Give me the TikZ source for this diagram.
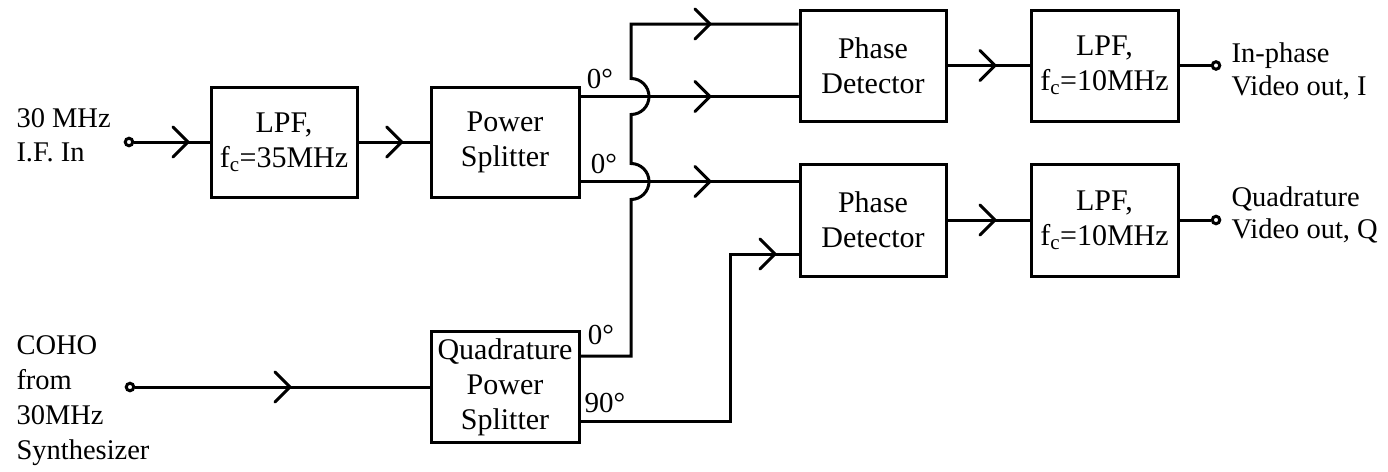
\documentclass[tikz,border=0pt]{standalone}
\usepackage{fontspec}
\setmainfont{Liberation Serif}
\usetikzlibrary{calc}
\begin{document}
\begin{tikzpicture}[x=1pt,y=-1pt,
  line width=3pt, line join=miter,
  box/.style={draw, line width=3pt, rectangle, inner sep=0pt, align=center,
    font=\fontsize{30}{35}\selectfont},
  term/.style={draw, circle, line width=3pt, minimum size=7.5pt, inner sep=0pt, fill=white},
  lbl/.style={inner sep=0pt, align=left, font=\fontsize{28.5}{34}\selectfont},
  deg/.style={inner sep=0pt, font=\fontsize{29}{34}\selectfont},
  chev/.pic={\draw[line width=3pt, line cap=round] (-15,-15) -- (0,0) -- (-15,15);}
]
\useasboundingbox (0,0) rectangle (1388,471);

% boxes
\node[box, minimum width=146pt, minimum height=110pt] (lpf1) at (284,142) {LPF,\\f\textsubscript{c}=35MHz};
\node[box, minimum width=148pt, minimum height=110pt] (ps) at (505,142) {Power\\Splitter};
\node[box, minimum width=146pt, minimum height=111pt] (pd1) at (873,65.5) {Phase\\Detector};
\node[box, minimum width=146pt, minimum height=112pt] (pd2) at (873,220) {Phase\\Detector};
\node[box, minimum width=147pt, minimum height=111pt] (lpf2) at (1104.5,65.5) {LPF,\\f\textsubscript{c}=10MHz};
\node[box, minimum width=147pt, minimum height=112pt] (lpf3) at (1104.5,220) {LPF,\\f\textsubscript{c}=10MHz};
\node[box, minimum width=148pt, minimum height=111pt] (qps) at (505,387) {Quadrature\\Power\\Splitter};

% terminals
\node[term] (in1) at (129,142) {};
\node[term] (coho) at (130,387) {};
\node[term] (out1) at (1216,65.5) {};
\node[term] (out2) at (1216,220) {};

% labels
\node[lbl, anchor=west] (t1) at (15,135.4) {30 MHz\\I.F. In};
\node[lbl, anchor=west, font=\fontsize{28.5}{35}\selectfont] (t2) at (15,400.5) {COHO\\from\\30MHz\\Synthesizer};
\node[lbl, anchor=west, font=\fontsize{28.5}{33}\selectfont] (t3) at (1230,71) {In-phase\\Video out, I};
\node[lbl, anchor=west, font=\fontsize{28.5}{32}\selectfont] (t4) at (1230,214.5) {Quadrature\\Video out, Q};
\node[deg] (d1) at (600,79) {0°};
\node[deg] (d2) at (604,164) {0°};
\node[deg] (d3) at (601,335) {0°};
\node[deg] (d4) at (605,402.5) {90°};

% helper coordinates
\coordinate (ya) at (0,96.5);
\coordinate (yb) at (0,181.5);
\coordinate (ytop) at (0,24);
\coordinate (y0q) at (0,356);
\coordinate (y90) at (0,421);
\coordinate (yq) at (0,254);
\coordinate (jx) at (631,0);
\coordinate (kx) at (730,0);

% connectors
\draw (in1) -- (lpf1);
\draw (lpf1) -- (ps);
\draw (ps.east |- ya) -- (pd1.west |- ya);
\draw (ps.east |- yb) -- (pd2.west |- yb);
\draw (qps.east |- y0q) -- (jx |- y0q) -- ($(jx |- yb)+(0,18)$)
  arc[start angle=90, end angle=-90, radius=18]
  -- ($(jx |- ya)+(0,18)$)
  arc[start angle=90, end angle=-90, radius=18]
  -- (jx |- ytop) -- (pd1.west |- ytop);
\draw (qps.east |- y90) -- (kx |- y90) -- (kx |- yq) -- (pd2.west |- yq);
\draw (coho) -- (qps);
\draw (pd1) -- (lpf2);
\draw (pd2) -- (lpf3);
\draw (lpf2) -- (out1);
\draw (lpf3) -- (out2);

% chevrons
\pic at (188,142) {chev};
\pic at (401.7,142) {chev};
\pic at (710,24) {chev};
\pic at (710,96.5) {chev};
\pic at (710,181.5) {chev};
\pic at (775,254) {chev};
\pic at (995,65.5) {chev};
\pic at (995,220) {chev};
\pic at (290,387) {chev};
\end{tikzpicture}
\end{document}
